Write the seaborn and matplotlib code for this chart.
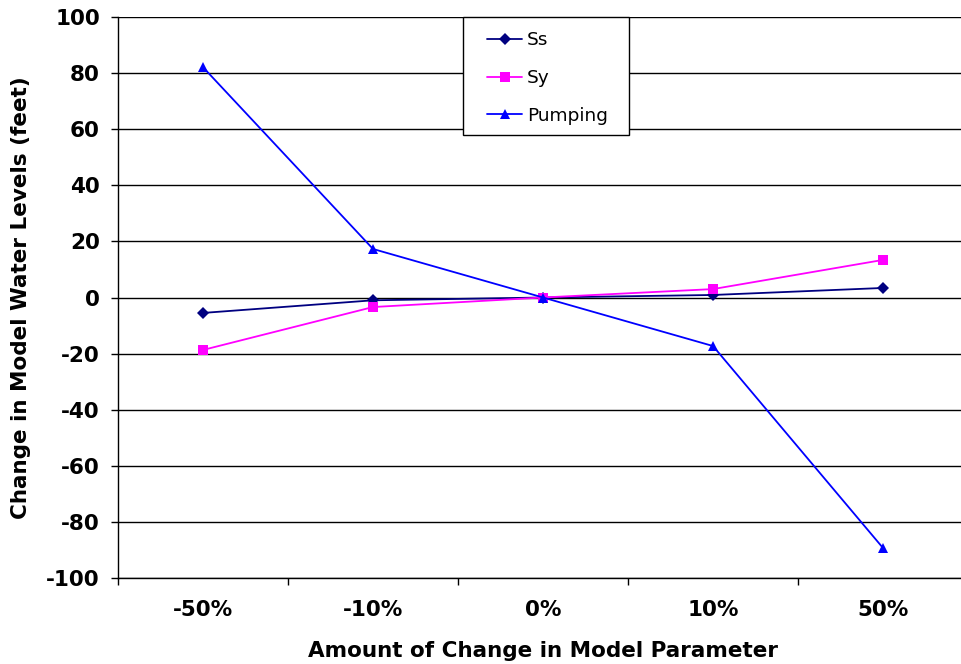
import matplotlib
matplotlib.use("Agg")
import matplotlib.pyplot as plt
from matplotlib.patches import Rectangle
import seaborn as sns
import pandas as pd
from matplotlib.ticker import FixedLocator, MultipleLocator

categories = ["-50%", "-10%", "0%", "10%", "50%"]
ss = [-5.5, -1.0, 0.0, 0.9, 3.4]
sy = [-18.7, -3.4, 0.0, 3.0, 13.4]
pumping = [82.1, 17.3, 0.0, -17.3, -89.3]
series_names = ["Ss", "Sy", "Pumping"]

rows = []
for name, vals in zip(series_names, [ss, sy, pumping]):
    for i, v in enumerate(vals):
        rows.append({"pos": i, "Parameter": name, "change": v})
df = pd.DataFrame(rows)

sns.set_theme(style="white")
plt.rcParams["font.family"] = ["DejaVu Sans"]
plt.rcParams["axes.unicode_minus"] = False
for key in ["text.color", "axes.labelcolor", "xtick.color", "ytick.color"]:
    plt.rcParams[key] = "black"

W, H = 962, 664
fig = plt.figure(figsize=(W / 100, H / 100), dpi=100)
ax = fig.add_axes([118 / W, 86 / H, 850 / W, 561 / H])

palette = {"Ss": "#000080", "Sy": "#FF00FF", "Pumping": "#0000FF"}
markers = {"Ss": "D", "Sy": "s", "Pumping": "^"}

sns.lineplot(data=df, x="pos", y="change", hue="Parameter", style="Parameter",
             palette=palette, markers=markers, dashes=False, linewidth=1.3,
             markersize=6.5, markeredgewidth=0, ax=ax, zorder=3)

ax.set_xlim(-0.5, 4.5)
ax.set_ylim(-100, 100)
ax.yaxis.set_major_locator(MultipleLocator(20))
ax.yaxis.grid(True, color="black", linewidth=1)
ax.xaxis.grid(False)
ax.set_axisbelow(True)

ax.xaxis.set_major_locator(FixedLocator(range(len(categories))))
ax.set_xticklabels(categories)
ax.xaxis.set_minor_locator(FixedLocator([i - 0.5 for i in range(len(categories) + 1)]))
ax.tick_params(axis="x", which="major", bottom=True, length=0, pad=16, labelsize=15.5)
ax.tick_params(axis="x", which="minor", bottom=True, length=5, width=1, color="black",
               direction="out")
ax.tick_params(axis="y", which="major", left=True, length=5, width=1, color="black",
               direction="out", labelsize=15.5, pad=8)
for lbl in ax.get_xticklabels() + ax.get_yticklabels():
    lbl.set_fontweight("bold")

for side in ["top", "right"]:
    ax.spines[side].set_visible(False)
for side in ["left", "bottom"]:
    ax.spines[side].set_color("black")
    ax.spines[side].set_linewidth(1)

ax.set_xlabel("Amount of Change in Model Parameter", fontsize=15.5, fontweight="bold",
              labelpad=15)
ax.set_ylabel("Change in Model Water Levels (feet)", fontsize=15.5, fontweight="bold",
              labelpad=11)

# legend box drawn as a plain rectangle in pixel-aligned axes coordinates
def to_axes(px, py):
    return (px - 118) / 850, (578 - py) / 561

x0, y0 = to_axes(463, 135)
x1, y1 = to_axes(629, 17)
ax.add_patch(Rectangle((x0, y0), x1 - x0, y1 - y0, transform=ax.transAxes,
                       facecolor="white", edgecolor="black", linewidth=1, zorder=5,
                       clip_on=False))

lx, ly = to_axes(478, 22)
leg = ax.legend(title=None, loc="upper left", bbox_to_anchor=(lx, ly),
                frameon=False, fontsize=13.3, labelspacing=1.07,
                borderpad=0.5, handlelength=1.9, handletextpad=0.25, borderaxespad=0)
leg.set_zorder(6)

fig.savefig("out.png", dpi=100)
